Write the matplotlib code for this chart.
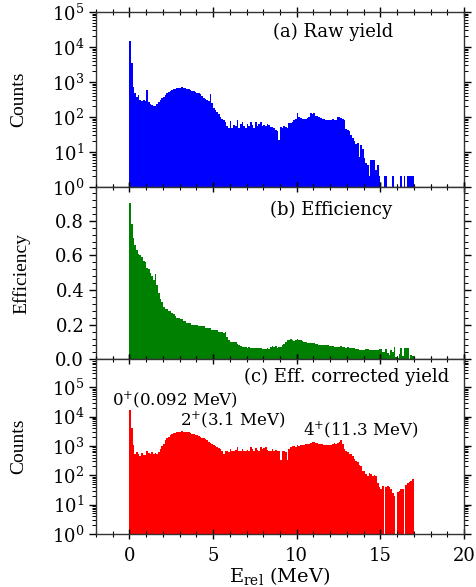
"""
Relative-energy spectra: raw yield, detection efficiency and efficiency corrected yield.
"""
import matplotlib
matplotlib.use('Agg')
import matplotlib.pyplot as plt
import numpy as np
from matplotlib.ticker import MultipleLocator, AutoMinorLocator, LogLocator, NullFormatter

plt.rcParams['font.family'] = 'serif'
plt.rcParams['font.serif'] = ['DejaVu Serif']
plt.rcParams['mathtext.fontset'] = 'dejavuserif'

# Histogram binning (MeV)
BIN_WIDTH = 0.1
N_BINS = 170

# (a) raw counts per 0.1 MeV bin, one row per MeV
raw_counts = [
    15000, 3500, 700, 480, 380, 420, 300, 290, 300, 280,
    590, 260, 240, 220, 210, 200, 230, 260, 300, 340,
    380, 420, 470, 520, 560, 590, 620, 650, 660, 680,
    690, 700, 680, 660, 640, 620, 580, 560, 550, 530,
    500, 470, 440, 400, 360, 330, 300, 290, 450, 250,
    180, 160, 140, 125, 100, 85, 80, 70, 55, 50,
    75, 48, 60, 55, 80, 50, 62, 70, 55, 50,
    65, 55, 70, 60, 50, 72, 55, 65, 70, 55,
    60, 55, 65, 58, 53, 53, 48, 43, 40, 22,
    53, 50, 55, 53, 50, 66, 66, 70, 82, 85,
    127, 100, 95, 90, 88, 85, 95, 100, 127, 120,
    127, 110, 105, 100, 95, 88, 90, 82, 80, 82,
    82, 85, 80, 82, 100, 102, 95, 90, 82, 45,
    43, 40, 30, 25, 20, 17, 18, 7.4, 16, 12,
    6.6, 5, 4.3, 2, 6, 6, 6, 3, 4.3, 2,
    1, 1, 2, 2, 1, 1, 1, 2, 1, 1,
    1, 1, 2, 1, 2, 1, 2, 2, 2, 2,
]

# (b) efficiency per bin
efficiency = [
    0.90, 0.78, 0.70, 0.66, 0.63, 0.61, 0.60, 0.59, 0.57, 0.56,
    0.53, 0.52, 0.50, 0.48, 0.46, 0.49, 0.43, 0.38, 0.35, 0.33,
    0.30, 0.29, 0.29, 0.28, 0.28, 0.27, 0.26, 0.25, 0.24, 0.24,
    0.23, 0.23, 0.22, 0.22, 0.21, 0.21, 0.21, 0.20, 0.20, 0.20,
    0.20, 0.19, 0.19, 0.19, 0.19, 0.18, 0.18, 0.18, 0.18, 0.17,
    0.17, 0.17, 0.17, 0.16, 0.16, 0.16, 0.15, 0.16, 0.13, 0.11,
    0.10, 0.10, 0.10, 0.10, 0.09, 0.08, 0.075, 0.07, 0.07, 0.07,
    0.068, 0.07, 0.066, 0.067, 0.065, 0.066, 0.064, 0.065, 0.063, 0.062,
    0.062, 0.06, 0.063, 0.06, 0.073, 0.077, 0.07, 0.075, 0.064, 0.07,
    0.073, 0.08, 0.087, 0.10, 0.11, 0.11, 0.116, 0.11, 0.105, 0.11,
    0.116, 0.11, 0.112, 0.105, 0.10, 0.10, 0.096, 0.095, 0.096, 0.094,
    0.092, 0.09, 0.087, 0.085, 0.083, 0.084, 0.085, 0.082, 0.08, 0.078,
    0.077, 0.075, 0.073, 0.071, 0.069, 0.072, 0.075, 0.07, 0.069, 0.068,
    0.07, 0.067, 0.064, 0.065, 0.064, 0.062, 0.058, 0.056, 0.054, 0.055,
    0.056, 0.058, 0.06, 0.055, 0.054, 0.054, 0.054, 0.056, 0.055, 0.058,
    0.058, 0.044, 0.04, 0.058, 0.035, 0.025, 0.055, 0.04, 0.069, 0.015,
    0.006, 0.03, 0.064, 0.02, 0.064, 0.064, 0.064, 0.0, 0.025, 0.02,
]

# (c) efficiency corrected counts per bin
corrected_counts = [
    17000, 4000, 1050, 540, 600, 520, 470, 560, 500, 480,
    700, 560, 540, 600, 550, 560, 540, 600, 800, 1000,
    1200, 1550, 1800, 2000, 2300, 2600, 2700, 2800, 3000, 3000,
    3100, 3200, 3100, 3000, 3000, 2900, 2700, 2600, 2500, 2300,
    2300, 2200, 2000, 1900, 1800, 1700, 1550, 1400, 1300, 1200,
    1100, 1000, 900, 850, 800, 700, 540, 650, 700, 600,
    800, 650, 700, 750, 900, 680, 700, 800, 650, 700,
    750, 700, 900, 800, 650, 850, 750, 700, 900, 800,
    850, 900, 750, 700, 650, 800, 700, 750, 650, 700,
    320, 650, 700, 620, 320, 800, 900, 1000, 1000, 950,
    1050, 1000, 1050, 1100, 1100, 1200, 1200, 1150, 1300, 1350,
    1350, 1300, 1250, 1200, 1150, 1200, 1100, 1050, 1100, 1050,
    1100, 1200, 1300, 1200, 1250, 1350, 1650, 1200, 800, 700,
    620, 550, 540, 450, 360, 300, 280, 230, 210, 145,
    140, 110, 95, 120, 110, 95, 100, 95, 56, 40,
    33, 44, 1, 40, 44, 40, 33, 25, 20, 1,
    28, 30, 33, 33, 1, 45, 55, 60, 65, 74,
]

# State labels: (text, E position in MeV, counts position)
state_labels = [
    ('0$^{+}$(0.092 MeV)', -1.05, 3.9e4),
    ('2$^{+}$(3.1 MeV)', 3.0, 8.0e3),
    ('4$^{+}$(11.3 MeV)', 10.35, 3.6e3),
]

edges = np.arange(N_BINS + 1) * BIN_WIDTH

fig = plt.figure(figsize=(4.76, 5.87), dpi=100)
left, width = 96 / 476, 368 / 476
ax_a = fig.add_axes([left, 400 / 587, width, 175 / 587])
ax_b = fig.add_axes([left, 227.7 / 587, width, 172.3 / 587])
ax_c = fig.add_axes([left, 53 / 587, width, 174.7 / 587])

YLABEL_FONT = dict(family='Liberation Serif', fontsize=14)


def style_axis(ax):
    ax.set_xlim(-2, 20)
    ax.xaxis.set_major_locator(MultipleLocator(5))
    ax.xaxis.set_minor_locator(MultipleLocator(1))
    ax.tick_params(axis='x', which='both', direction='inout', top=True,
                   labelsize=13, pad=6)
    ax.tick_params(axis='x', which='major', length=7, width=1)
    ax.tick_params(axis='x', which='minor', length=4, width=0.8)
    ax.tick_params(axis='y', which='both', direction='out', right=True, labelsize=13)
    ax.tick_params(axis='y', which='major', length=5, width=1)
    ax.tick_params(axis='y', which='minor', length=3, width=0.7)
    for s in ax.spines.values():
        s.set_linewidth(1.0)
        s.set_color('#333333')


def log_ticks(ax):
    ax.yaxis.set_major_locator(LogLocator(base=10, numticks=10))
    ax.yaxis.set_minor_locator(LogLocator(base=10, subs=np.arange(2, 10), numticks=10))
    ax.yaxis.set_minor_formatter(NullFormatter())


# (a) raw yield
ax_a.stairs(raw_counts, edges, fill=True, color='#0000ff', baseline=1)
ax_a.set_yscale('log')
ax_a.set_ylim(1, 1e5)
style_axis(ax_a)
log_ticks(ax_a)
ax_a.tick_params(axis='x', labelbottom=False)
ax_a.set_ylabel('Counts', **YLABEL_FONT)
ax_a.yaxis.set_label_coords(-0.187, 0.5)
ax_a.text(0.644, 0.885, '(a) Raw yield', transform=ax_a.transAxes,
          ha='center', va='center', fontsize=13)

# (b) efficiency
ax_b.stairs(efficiency, edges, fill=True, color='#008000', baseline=0)
ax_b.set_ylim(0, 0.995)
style_axis(ax_b)
ax_b.yaxis.set_major_locator(MultipleLocator(0.2))
ax_b.yaxis.set_minor_locator(AutoMinorLocator(5))
ax_b.yaxis.set_major_formatter(plt.FuncFormatter(lambda v, p: f'{v:.1f}'))
ax_b.tick_params(axis='x', labelbottom=False)
ax_b.set_ylabel('Efficiency', **YLABEL_FONT)
ax_b.yaxis.set_label_coords(-0.178, 0.5)
ax_b.text(0.64, 0.865, '(b) Efficiency', transform=ax_b.transAxes,
          ha='center', va='center', fontsize=13)

# (c) efficiency corrected yield
ax_c.stairs(corrected_counts, edges, fill=True, color='#ff0000', baseline=1)
ax_c.set_yscale('log')
ax_c.set_ylim(1, 9e5)
style_axis(ax_c)
log_ticks(ax_c)
ax_c.set_ylabel('Counts', **YLABEL_FONT)
ax_c.yaxis.set_label_coords(-0.187, 0.5)
ax_c.set_xlabel(r'$\mathrm{E_{rel}}$ (MeV)', fontsize=14, labelpad=0)
ax_c.text(0.68, 0.9, '(c) Eff. corrected yield', transform=ax_c.transAxes,
          ha='center', va='center', fontsize=13)
for text, xpos, ypos in state_labels:
    ax_c.text(xpos, ypos, text, ha='left', va='center', fontsize=12)

fig.savefig('out.png', dpi=100)
